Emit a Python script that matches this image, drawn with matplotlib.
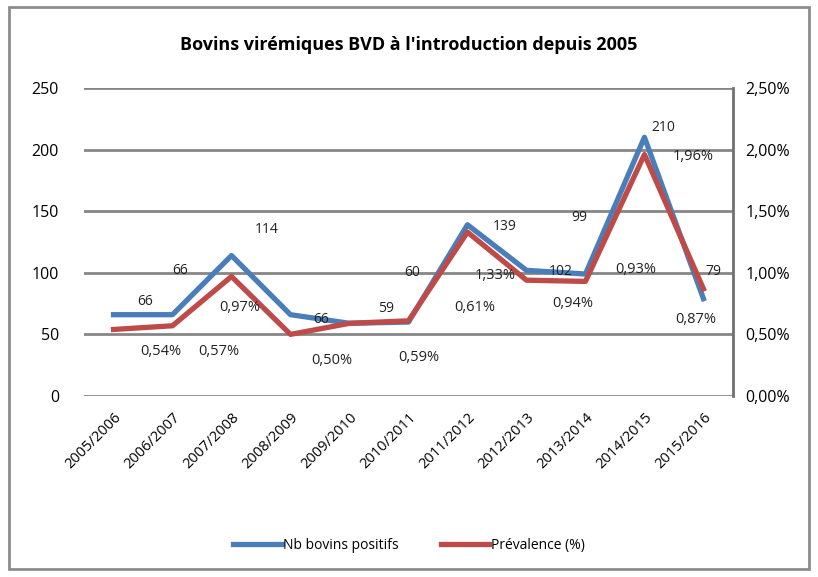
import matplotlib.pyplot as plt
from matplotlib.patches import Rectangle

# donnees
saisons = ['2005/2006', '2006/2007', '2007/2008', '2008/2009', '2009/2010', '2010/2011',
           '2011/2012', '2012/2013', '2013/2014', '2014/2015', '2015/2016']
nb_positifs = [66, 66, 114, 66, 59, 60, 139, 102, 99, 210, 79]
prevalence = [0.54, 0.57, 0.97, 0.50, 0.59, 0.61, 1.33, 0.94, 0.93, 1.96, 0.87]

# decalage des etiquettes (pixels, vers la droite / vers le haut)
off_bleu = [(32, 13), (8, 44), (35, 26), (31, -5), (37, 15), (4, 50),
            (37, -2), (34, -1), (-6, 57), (19, 10), (10, 27)]
off_rouge = [(47, -22), (46, -26), (8, -31), (41, -26), (69, -34), (66, 13),
             (28, -43), (46, -23), (50, 12), (49, -2), (-8, -31)]

bleu = '#4a7ebb'
rouge = '#be4b48'
gris = '#868686'
plt.rcParams['font.family'] = ['Open Sans', 'DejaVu Sans']

fig = plt.figure(figsize=(8.18, 5.77), dpi=100)
fig.patches.append(Rectangle((0.011, 0.013), 0.978, 0.975, transform=fig.transFigure,
                             fill=False, edgecolor='#8c8c8c', linewidth=2))

ax = fig.add_axes([0.1027, 0.3137, 0.7933, 0.5338])
ax2 = ax.twinx()

x = range(len(saisons))
ax.plot(x, nb_positifs, color=bleu, linewidth=3.8, zorder=3)
ax2.plot(x, prevalence, color=rouge, linewidth=3.8, zorder=3)

ax.set_ylim(0, 250)
ax2.set_ylim(0, 2.5)
ax.set_xlim(-0.5, len(saisons) - 0.5)
ax.set_yticks(range(0, 251, 50))
ax2.set_yticks([0, 0.5, 1.0, 1.5, 2.0, 2.5])
ax2.set_yticklabels([('%.2f%%' % v).replace('.', ',') for v in ax2.get_yticks()])
ax.grid(axis='y', color=gris, linewidth=2)
ax.set_axisbelow(True)

ax.set_xticks(list(x))
ax.set_xticklabels(saisons, rotation=45, ha='right', rotation_mode='anchor', fontsize=10.5)
ax.tick_params(axis='x', length=0, pad=10)
ax.tick_params(axis='y', length=0, pad=18, labelsize=11.5)
ax2.tick_params(axis='y', length=0, pad=9, labelsize=11.5)

for a in (ax, ax2):
    for s in ['top', 'left', 'bottom']:
        a.spines[s].set_visible(False)
ax.spines['right'].set_visible(False)
ax2.spines['right'].set_color('#707070')
ax2.spines['right'].set_linewidth(2)

for i, v in enumerate(nb_positifs):
    dx, dy = off_bleu[i]
    ax.annotate(str(v), (i, v), xytext=(dx, dy), textcoords='offset pixels',
                ha='center', va='center', fontsize=10, color='#222222', zorder=5)
for i, v in enumerate(prevalence):
    dx, dy = off_rouge[i]
    ax2.annotate(('%.2f%%' % v).replace('.', ','), (i, v), xytext=(dx, dy),
                 textcoords='offset pixels', ha='center', va='center',
                 fontsize=10.5, color='#222222', zorder=5)

fig.text(0.5, 0.922, "Bovins virémiques BVD à l'introduction depuis 2005",
         ha='center', va='center', fontsize=13, fontweight='bold')

h1, = ax.plot([], [], color=bleu, linewidth=3.8, label='Nb bovins positifs')
h2, = ax.plot([], [], color=rouge, linewidth=3.8, label='Prévalence (%)')
fig.legend(handles=[h1, h2], loc='center', bbox_to_anchor=(0.5, 0.055), ncol=2,
           frameon=False, fontsize=10, handlelength=3.5, handletextpad=0.1,
           columnspacing=3)

fig.savefig('out.png', dpi=100)
